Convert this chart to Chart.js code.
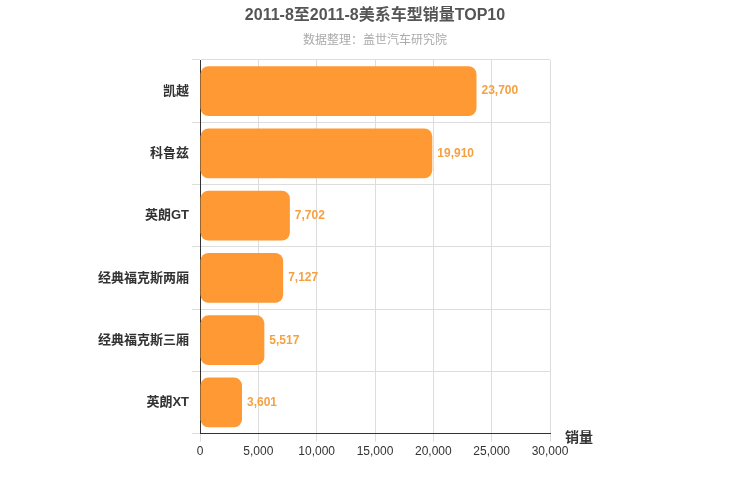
<!DOCTYPE html>
<html><head><meta charset="utf-8">
<script src="https://cdn.jsdelivr.net/npm/chart.js"></script>
<style>body{margin:0;background:#fff}#w{width:750px;height:500px}</style></head>
<body><div id="w"><canvas id="c"></canvas></div>
<script>
const categories=["凯越","科鲁兹","英朗GT","经典福克斯两厢","经典福克斯三厢","英朗XT"];
const sales=[23700,19910,7702,7127,5517,3601];
const xTicks=[0,5000,10000,15000,20000,25000,30000];
const font='"Liberation Sans", "Noto Sans CJK SC", sans-serif';
const labels={id:'lbl',afterDatasetsDraw(ch){const c=ch.ctx;const m=ch.getDatasetMeta(0);c.save();c.font='bold 12px '+font;c.fillStyle='#F5A142';c.textBaseline='middle';
m.data.forEach((b,i)=>{c.fillText(sales[i].toLocaleString('en-US'),b.x+5,b.y);});
c.fillStyle='#333';c.font='bold 14px '+font;c.fillText('销量',565,438);
c.textAlign='center';c.fillStyle='#555';c.font='bold 16px '+font;c.fillText('2011-8至2011-8美系车型销量TOP10',375,16);
c.fillStyle='#aaa';c.font='12px '+font;c.fillText('数据整理：盖世汽车研究院',375,41);c.restore();}};
new Chart(document.getElementById('c'),{type:'bar',data:{labels:categories,datasets:[{data:sales,backgroundColor:'#FF9933',borderRadius:8,borderSkipped:false,categoryPercentage:0.8,barPercentage:1}]},
options:{indexAxis:'y',responsive:true,maintainAspectRatio:false,animation:false,
layout:{padding:{left:0,right:200,top:60,bottom:38}},
plugins:{legend:{display:false},tooltip:{enabled:false}},
scales:{x:{min:0,max:30000,afterBuildTicks(a){a.ticks=xTicks.map(v=>({value:v}));},ticks:{color:'#333',font:{size:12,family:font},callback:v=>v.toLocaleString('en-US')},grid:{color:'#ddd'},border:{color:'#333'}},
y:{afterFit(a){a.width=200;},ticks:{color:'#333',font:{size:13,weight:'bold',family:font}},grid:{color:'#ddd',offset:true},border:{color:'#333'}}}}
,plugins:[labels]});
</script></body></html>
